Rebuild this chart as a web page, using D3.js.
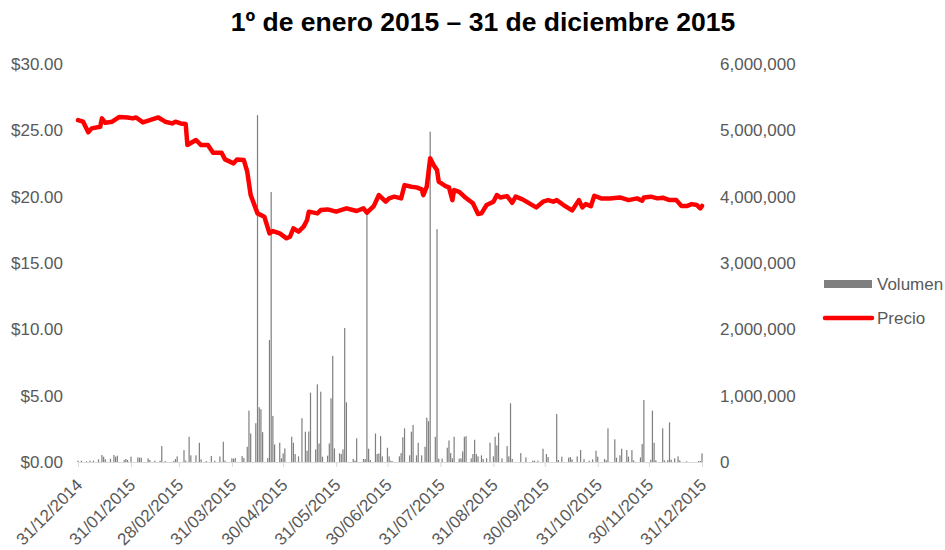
<!DOCTYPE html>
<meta charset="utf-8">
<style>
  body { margin: 0; background: #fff; }
  text { font-family: "Liberation Sans", Arial, sans-serif; fill: #595959; }
  .title { font-weight: bold; fill: #000; }
</style>
<svg width="945" height="550"></svg>
<script src="https://cdn.jsdelivr.net/npm/d3@7"></script>
<script>
// day offsets counted from 31/12/2014
const priceDays = [0, 3, 6, 8, 13, 14, 16, 20, 24, 29, 32, 34, 38, 42, 47, 51, 55, 57, 60, 63,
  64, 69, 72, 76, 79, 84, 86, 91, 93, 97, 99, 101, 105, 109, 112, 114, 118, 122, 124, 126,
  129, 132, 134, 135, 140, 142, 146, 151, 157, 163, 167, 169, 173, 176, 180, 182, 185, 189, 191, 195,
  198, 201, 202, 204, 206, 208, 210, 211, 215, 217, 219, 220, 223, 226, 231, 234, 236, 239, 243, 245,
  247, 251, 254, 256, 260, 268, 272, 275, 278, 280, 284, 289, 293, 295, 297, 300, 302, 306, 311, 317,
  322, 327, 330, 331, 335, 339, 342, 346, 350, 353, 356, 359, 362, 364, 365];
const priceValues = [25.77, 25.65, 24.85, 25.15, 25.27, 25.9, 25.57, 25.65, 26.0, 25.97, 25.9, 25.97, 25.6, 25.77, 25.97, 25.65, 25.52, 25.65, 25.52, 25.47,
  23.89, 24.27, 23.89, 23.89, 23.31, 23.31, 22.81, 22.51, 22.81, 22.76, 21.88, 20.12, 18.74, 18.49, 17.23, 17.41, 17.23, 16.86, 16.98, 17.61,
  17.36, 17.74, 18.24, 18.87, 18.74, 18.99, 19.04, 18.87, 19.12, 18.92, 19.12, 18.79, 19.29, 20.12, 19.62, 19.87, 20.0, 19.87, 20.87, 20.75,
  20.7, 20.55, 20.12, 20.75, 22.89, 22.38, 22.0, 21.13, 20.8, 20.7, 19.74, 20.5, 20.37, 20.0, 19.5, 18.69, 18.74, 19.37, 19.62, 20.12,
  19.94, 20.04, 19.54, 20.0, 19.8, 19.19, 19.62, 19.74, 19.62, 19.74, 19.37, 18.96, 19.74, 19.19, 19.44, 19.29, 20.07, 19.87, 19.87, 19.94,
  19.74, 19.87, 19.69, 19.94, 20.0, 19.87, 19.92, 19.74, 19.74, 19.29, 19.29, 19.44, 19.37, 19.12, 19.3];

const volumeDays = [0, 2, 5, 7, 9, 12, 14, 15, 16, 19, 21, 22, 23, 27, 28, 29, 31, 35, 36, 37,
  41, 42, 45, 48, 49, 51, 56, 57, 58, 62, 63, 65, 66, 69, 71, 72, 75, 78, 80, 83,
  85, 86, 90, 91, 92, 96, 97, 99, 100, 101, 104, 105, 106, 107, 108, 111, 112, 113, 114, 115,
  118, 119, 120, 121, 125, 126, 127, 129, 131, 133, 134, 135, 136, 139, 140, 141, 142, 143, 146, 147,
  148, 149, 150, 153, 154, 155, 156, 157, 161, 162, 163, 167, 168, 169, 170, 171, 174, 175, 176, 177,
  178, 181, 182, 183, 184, 188, 189, 190, 191, 194, 195, 196, 198, 199, 201, 203, 204, 205, 206, 209,
  210, 211, 213, 216, 217, 218, 219, 220, 223, 224, 225, 226, 227, 230, 231, 232, 233, 234, 236, 237,
  239, 241, 243, 244, 245, 246, 248, 251, 252, 253, 254, 259, 262, 266, 267, 269, 272, 274, 275, 280,
  281, 283, 287, 288, 289, 292, 294, 296, 299, 301, 303, 304, 308, 309, 310, 314, 315, 317, 318, 321,
  322, 324, 325, 329, 330, 331, 335, 336, 337, 338, 342, 343, 345, 346, 347, 349, 351, 352, 356, 363,
  364, 365];
const volumeValues = [20000, 20000, 10000, 20000, 20000, 40000, 105000, 80000, 40000, 50000, 105000, 80000, 95000, 30000, 45000, 30000, 80000, 70000, 65000, 65000,
  55000, 30000, 20000, 20000, 240000, 15000, 15000, 45000, 85000, 180000, 20000, 380000, 100000, 100000, 290000, 40000, 15000, 90000, 20000, 85000,
  305000, 20000, 55000, 50000, 60000, 90000, 60000, 230000, 775000, 430000, 585000, 5230000, 825000, 795000, 450000, 60000, 1840000, 4070000, 695000, 265000,
  290000, 55000, 130000, 205000, 380000, 290000, 120000, 85000, 660000, 457000, 170000, 460000, 1045000, 190000, 1170000, 280000, 1060000, 80000, 95000, 280000,
  960000, 1600000, 205000, 130000, 120000, 190000, 2020000, 900000, 45000, 20000, 357000, 45000, 45000, 3800000, 200000, 30000, 430000, 120000, 130000, 390000,
  85000, 215000, 85000, 20000, 10000, 85000, 135000, 372000, 508000, 100000, 457000, 558000, 100000, 290000, 100000, 230000, 668000, 615000, 4980000, 380000,
  3510000, 50000, 50000, 215000, 325000, 135000, 55000, 380000, 50000, 55000, 160000, 380000, 390000, 55000, 120000, 335000, 120000, 85000, 100000, 45000,
  55000, 290000, 85000, 380000, 250000, 442000, 55000, 240000, 85000, 885000, 45000, 135000, 70000, 20000, 20000, 20000, 200000, 120000, 75000, 724000,
  30000, 80000, 65000, 75000, 40000, 85000, 180000, 45000, 20000, 40000, 170000, 80000, 45000, 25000, 508000, 342000, 65000, 100000, 200000, 180000,
  80000, 180000, 25000, 70000, 270000, 935000, 35000, 775000, 290000, 25000, 508000, 25000, 30000, 598000, 35000, 55000, 85000, 25000, 10000, 15000,
  15000, 130000];

const xTickLabels = ["31/12/2014", "31/01/2015", "28/02/2015", "31/03/2015", "30/04/2015", "31/05/2015",
  "30/06/2015", "31/07/2015", "31/08/2015", "30/09/2015", "31/10/2015", "30/11/2015", "31/12/2015"];
const priceTicks = [0, 5, 10, 15, 20, 25, 30];
const volumeTicks = [0, 1000000, 2000000, 3000000, 4000000, 5000000, 6000000];

const svg = d3.select("svg");
const plotLeft = 78, plotRight = 702, plotTop = 64, plotBottom = 462;

const parseDay = d3.timeParse("%d/%m/%Y");
const dayDate = d => new Date(2014, 11, 31 + d);

const x = d3.scaleTime()
  .domain([parseDay(xTickLabels[0]), parseDay(xTickLabels[xTickLabels.length - 1])])
  .range([plotLeft, plotRight]);
const yPrice = d3.scaleLinear().domain([0, 30]).range([plotBottom, plotTop]);
const yVol = d3.scaleLinear().domain([0, 6000000]).range([plotBottom, plotTop]);

svg.append("text")
  .attr("class", "title")
  .attr("x", 483)
  .attr("y", 31)
  .attr("text-anchor", "middle")
  .attr("font-size", 26.5)
  .text("1º de enero 2015 – 31 de diciembre 2015");

// volume columns
svg.append("g")
  .selectAll("rect")
  .data(volumeDays)
  .enter().append("rect")
    .attr("x", (d) => x(dayDate(d)) - 0.6)
    .attr("width", 1.2)
    .attr("y", (d, i) => yVol(volumeValues[i]))
    .attr("height", (d, i) => plotBottom - yVol(volumeValues[i]))
    .attr("fill", "#7f7f7f");

// x axis
const xAxis = svg.append("g")
  .attr("transform", `translate(0,${plotBottom})`)
  .call(d3.axisBottom(x)
    .tickValues(xTickLabels.map(parseDay))
    .tickFormat(d3.timeFormat("%d/%m/%Y"))
    .tickSize(5)
    .tickSizeOuter(0));
xAxis.select(".domain").attr("stroke", "#d9d9d9");
xAxis.selectAll(".tick line").attr("stroke", "#d9d9d9");
xAxis.selectAll(".tick text")
  .attr("font-size", 17)
  .attr("fill", "#595959")
  .attr("text-anchor", "end")
  .attr("dy", 0)
  .attr("y", 0)
  .attr("transform", "translate(5,24) rotate(-45)");

// left axis
const yl = svg.append("g")
  .attr("transform", `translate(${plotLeft},0)`)
  .call(d3.axisLeft(yPrice).tickValues(priceTicks).tickFormat(d3.format("$.2f")).tickSize(0).tickPadding(15));
yl.select(".domain").remove();
yl.selectAll("text").attr("font-size", 17).attr("fill", "#595959");

// right axis
const yr = svg.append("g")
  .attr("transform", `translate(${plotRight},0)`)
  .call(d3.axisRight(yVol).tickValues(volumeTicks).tickFormat(d3.format(",")).tickSize(0).tickPadding(18));
yr.select(".domain").remove();
yr.selectAll("text").attr("font-size", 17).attr("fill", "#595959");

// price line
const line = d3.line()
  .x((d) => x(dayDate(d)))
  .y((d, i) => yPrice(priceValues[i]));
svg.append("path")
  .attr("d", line(priceDays))
  .attr("fill", "none")
  .attr("stroke", "#ff0000")
  .attr("stroke-width", 4.5)
  .attr("stroke-linejoin", "round")
  .attr("stroke-linecap", "round");

// legend
svg.append("rect")
  .attr("x", 824).attr("y", 280).attr("width", 48).attr("height", 8)
  .attr("fill", "#7f7f7f");
svg.append("text")
  .attr("x", 877).attr("y", 284).attr("dy", "0.35em")
  .attr("font-size", 17)
  .text("Volumen");
svg.append("line")
  .attr("x1", 825).attr("x2", 872).attr("y1", 318).attr("y2", 318)
  .attr("stroke", "#ff0000").attr("stroke-width", 4.5).attr("stroke-linecap", "round");
svg.append("text")
  .attr("x", 877).attr("y", 318).attr("dy", "0.35em")
  .attr("font-size", 17)
  .text("Precio");
</script>
